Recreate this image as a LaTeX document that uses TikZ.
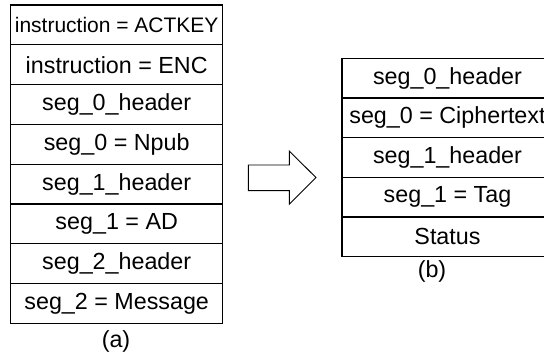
\documentclass[tikz,border=0pt]{standalone}
\usepackage{fontspec}
\setmainfont{Liberation Sans}
\begin{document}
\begin{tikzpicture}[x=1pt,y=-1pt,
  cell/.style={draw=black,line width=1.2pt,rectangle,inner sep=0pt,
    font=\fontsize{23.3}{28}\selectfont},
  lcell/.style={cell,minimum width=212pt,minimum height=39.8pt},
  rcell/.style={cell,minimum width=211pt,minimum height=39.7pt},
  sublabel/.style={font=\fontsize{23.3}{28}\selectfont,inner sep=0pt},
  bigarrow/.style={draw=black,line width=0.9pt,line join=miter}]
\useasboundingbox (0,0) rectangle (544,358);
\clip (0,0) rectangle (544,358);
% left stack
\node[lcell,font=\fontsize{21}{25}\selectfont] (l1) at (116.7,24.9) {instruction = ACTKEY};
\node[lcell] (l2) at (116.7,64.7) {instruction = ENC};
\node[lcell] (l3) at (116.7,104.5) {seg\_0\_header};
\node[lcell] (l4) at (116.7,144.3) {seg\_0 = Npub};
\node[lcell] (l5) at (116.7,184.1) {seg\_1\_header};
\node[lcell] (l6) at (116.7,223.9) {seg\_1 = AD};
\node[lcell] (l7) at (116.7,263.7) {seg\_2\_header};
\node[lcell] (l8) at (116.7,303.5) {seg\_2 = Message};
\node[sublabel] (capa) at (116,341.7) {(a)};
% right stack
\node[rcell] (r1) at (447.5,78.15) {seg\_0\_header};
\node[rcell] (r2) at (447.5,117.85) {seg\_0 = Ciphertext};
\node[rcell] (r3) at (447.5,157.55) {seg\_1\_header};
\node[rcell] (r4) at (447.5,197.25) {seg\_1 = Tag};
\node[rcell] (r5) at (447.5,236.95) {Status};
\node[sublabel] (capb) at (432,271) {(b)};
% hollow arrow
\draw[bigarrow] (248.3,165) -- (289.3,165) -- (289.3,151) -- (316,177.6)
  -- (289.3,204.3) -- (289.3,190.7) -- (248.3,190.7) -- cycle;
\end{tikzpicture}
\end{document}
